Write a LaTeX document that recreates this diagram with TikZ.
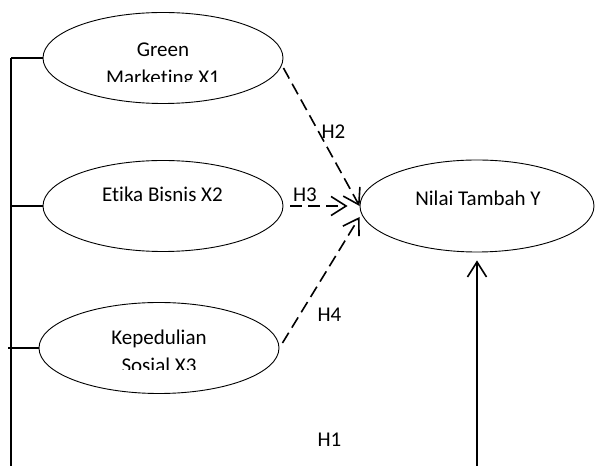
\documentclass[tikz,border=0pt]{standalone}
\usepackage{fontspec}
\setmainfont{Carlito}[Ligatures={NoCommon,NoRequired,NoContextual}]
\usetikzlibrary{shapes.geometric,arrows.meta,calc}
\begin{document}
\begin{tikzpicture}[x=1pt,y=1pt,
  ov/.style={draw, ellipse, line width=0.9pt, inner sep=0pt, minimum width=240pt, minimum height=91pt},
  txt/.style={inner sep=0pt, anchor=base, align=center, font=\fontsize{21}{27.5}\selectfont},
  link/.style={line width=1.6pt},
  hyp/.style={line width=1.6pt, dash pattern=on 12pt off 6pt, -{Straight Barb[length=15pt,width=19pt,line width=1.6pt]}},
  direct/.style={line width=1.6pt, -{Straight Barb[length=15pt,width=19pt,line width=1.6pt]}}]
\useasboundingbox (0,0) rectangle (595,466);
% ellipses
\node[ov] (g) at (163,408) {};
\node[ov] (e) at (163,260) {};
\node[ov] (k) at (159,118) {};
\node[ov, minimum width=234pt, minimum height=92pt] (y) at (477,260) {};
% texts
\begin{scope}
\clip (0,384) rectangle (595,466);
\node[txt] (gt) at (163,381.5) {Green\\Marketing X1};
\end{scope}
\node[txt] (et) at (162.5,264.3) {Etika Bisnis X2};
\begin{scope}
\clip (0,96) rectangle (595,200);
\node[txt] (kt) at (159,93.5) {Kepedulian\\Sosial X3};
\end{scope}
\node[txt] (yt) at (478,260) {Nilai Tambah Y};
% spine
\coordinate (sp) at (11,0);
\draw[link] (g.west -| sp) -- (sp);
\draw[link] (g.west) -- (g.west -| sp);
\draw[link] (e.west) -- (e.west -| sp);
\draw[link] (k.west) -- ($(k.west -| sp)+(-3,0)$);
% hypotheses
\draw[hyp] ($(g.east)+(0,-10)$) -- (y.west);
\draw[hyp] ($(e.east)+(7,0)$) -- ($(y.west)+(-12,0)$);
\draw[hyp] ($(k.east)+(3,5)$) -- ($(y.west)+(0,-11)$);
\coordinate (bot) at (477,0);
\draw[direct] (bot) -- ($(y.south)+(0,-8)$);
% labels
\node[txt] (h2) at (333.5,327) {H2};
\node[txt] (h3) at (305,264) {H3};
\node[txt] (h4) at (329.5,144) {H4};
\node[txt] (h1) at (329.5,19) {H1};
\end{tikzpicture}
\end{document}
